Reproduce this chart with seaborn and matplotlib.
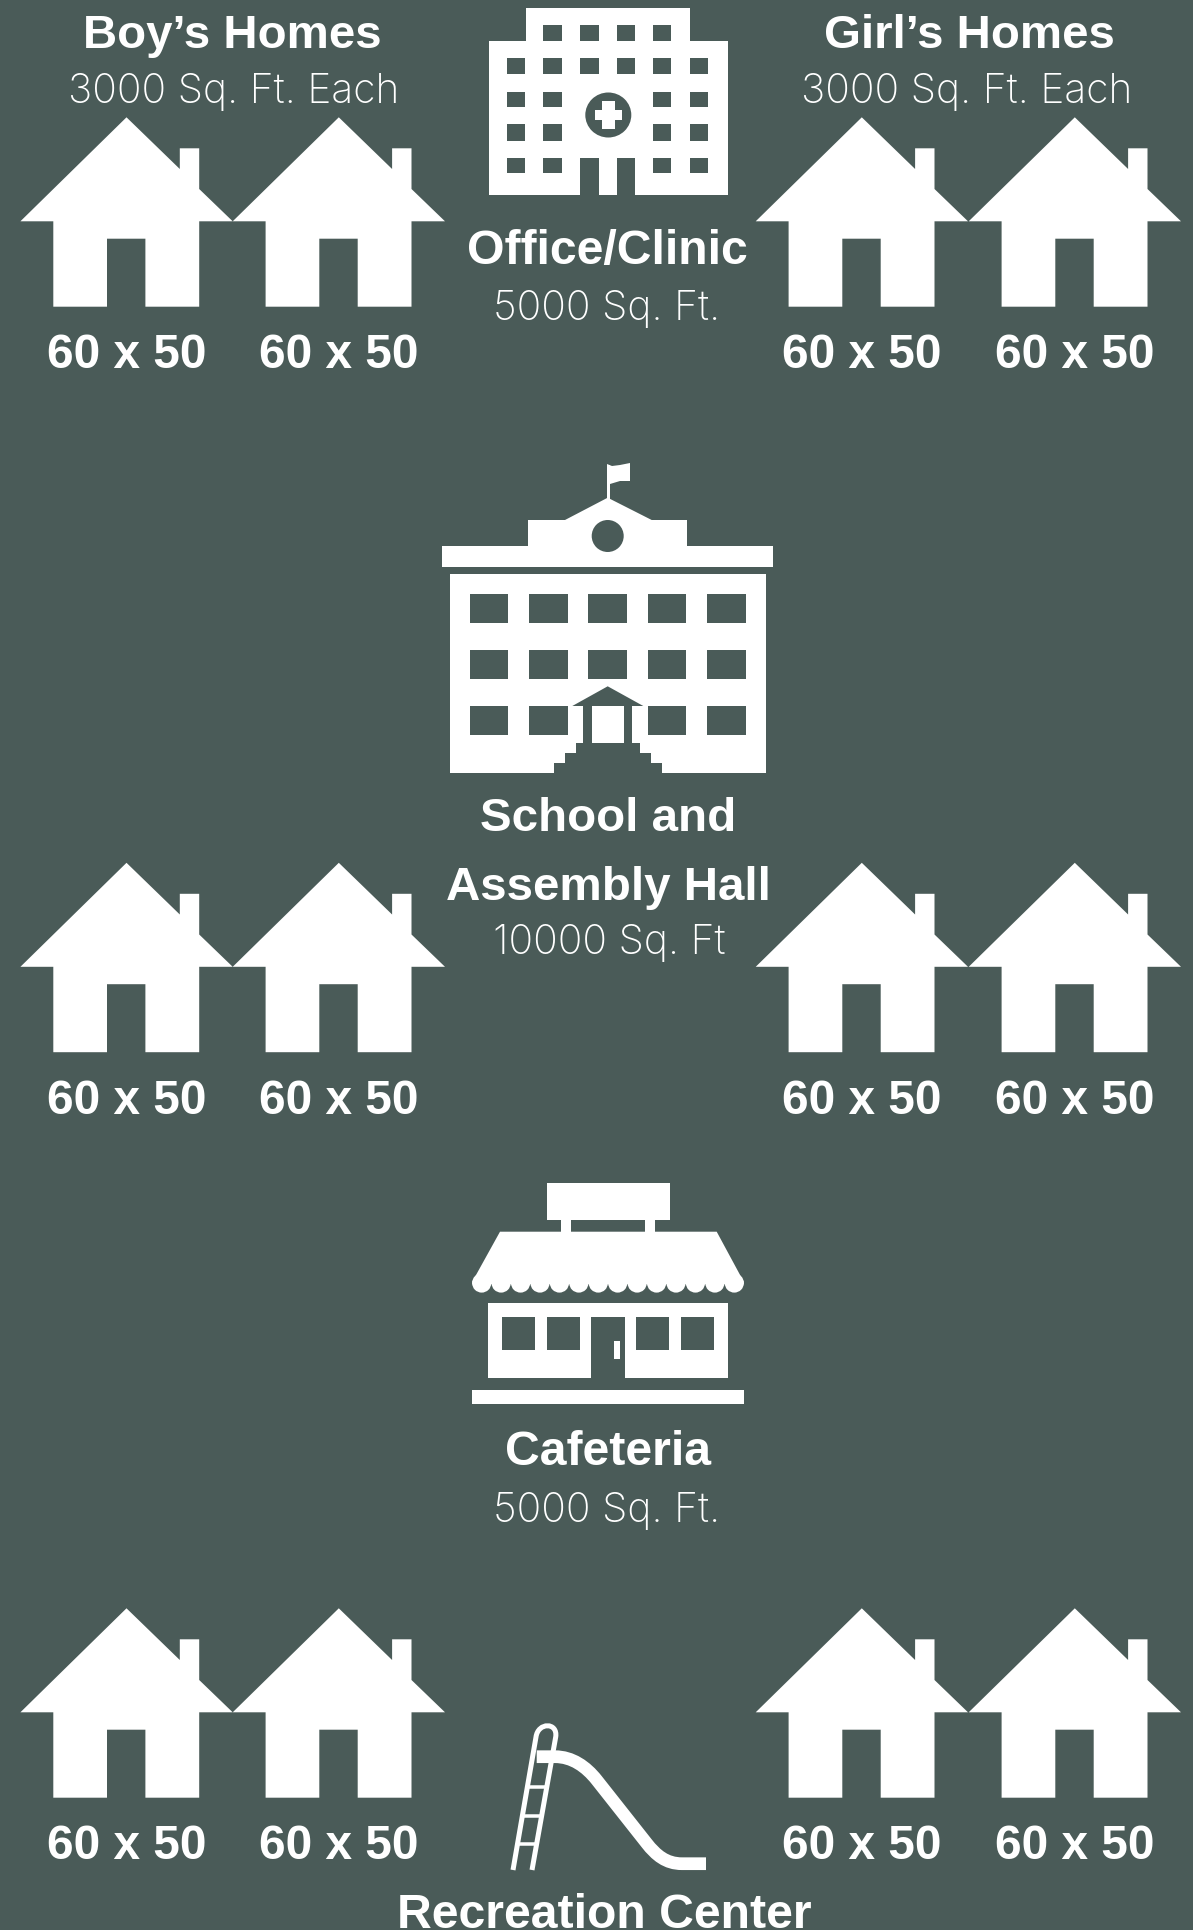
import matplotlib
matplotlib.use("Agg")
import matplotlib.pyplot as plt
import numpy as np
import pandas as pd
import seaborn as sns
from matplotlib.patches import Circle, Ellipse, PathPatch
from matplotlib.path import Path

# values shown on the sheet
home_groups = ["Boy\u2019s Homes", "Girl\u2019s Homes"]
home_sqft = [3000, 3000]
home_width = [60, 60, 60, 60]
home_depth = [50, 50, 50, 50]
home_rows = [0, 1, 2]
office_name = "Office/Clinic"
office_sqft = "5000 Sq. Ft."
school_name = ["School and", "Assembly Hall"]
school_sqft = "10000 Sq. Ft"
cafe_name = "Cafeteria"
cafe_sqft = "5000 Sq. Ft."
rec_name = "Recreation Center"

BG = "#4a5b58"
FG = "#ffffff"
W, H = 1193, 1930
DPI = 100
BOLD = "Liberation Sans"
LIGHT = "Inter"

# layout, in reference pixels
COL_X = [126.5, 338.8, 861.8, 1074.8]
ROW_BASE = [306.7, 1052.2, 1797.7]
ROW_STEP = 745.5

# house outline, x from apex, y up from the ground
HOUSE = [
    (-73.2, 0), (-19.5, 0), (-19.5, 68), (18.9, 68), (18.9, 0), (72.7, 0),
    (72.7, 85.4), (106.2, 85.4), (72.7, 117.7), (72.7, 158.4), (53.3, 158.4),
    (53.3, 137.7), (0, 189.4), (-106.1, 85.4), (-73.2, 85.4), (-73.2, 0),
]


def px(v):
    return v * 72 / DPI


def rect(ax, x0, y0, x1, y1, color=FG):
    ax.fill([x0, x1, x1, x0], [y0, y0, y1, y1], color=color, lw=0)


def label(ax, x, y, s, size=34.7):
    ax.text(x, y, s, ha="center", va="baseline", color=FG, fontsize=size,
            family=BOLD, fontweight="bold")


def light_label(ax, x, y, s, size=29.4):
    ax.text(x, y, s, ha="center", va="baseline", color=FG, fontsize=size,
            family=LIGHT, fontweight="light")


def draw_homes(ax):
    rows = pd.DataFrame(
        [(x, y) for y in ROW_BASE for x in COL_X], columns=["x", "y"]
    )
    marker = Path(np.array(HOUSE, dtype=float), closed=True)
    radius = np.abs(marker.vertices).max()
    sns.scatterplot(
        data=rows, x="x", y="y", marker=marker, s=(2 * radius * 72 / DPI) ** 2,
        color=FG, edgecolor="none", linewidth=0, legend=False, ax=ax,
    )
    for r in home_rows:
        for x, w, d in zip(COL_X, home_width, home_depth):
            label(ax, x, 368 + r * ROW_STEP, f"{w} x {d}", size=34.4)


def draw_office(ax):
    rect(ax, 526, 8.3, 689.8, 45)
    rect(ax, 488.6, 40.7, 727.6, 195)
    cols = [(507, 525.4), (543.4, 561.8), (580.2, 598.6), (617, 635), (653.4, 671.3), (690.3, 708.2)]
    rows = [(25, 40.7), (58.3, 74), (91.7, 107.3), (124.3, 140.7), (157.7, 173.3)]
    keep = [[1, 2, 3, 4], [0, 1, 2, 3, 4, 5], [0, 1, 4, 5], [0, 1, 4, 5], [0, 1, 4, 5]]
    for (y0, y1), idx in zip(rows, keep):
        for i in idx:
            rect(ax, cols[i][0], y0, cols[i][1], y1, BG)
    rect(ax, 580.2, 157.7, 598.6, 195, BG)
    rect(ax, 617, 157.7, 635, 195, BG)
    ax.add_patch(Ellipse((608.3, 115), 46, 45, color=BG, lw=0))
    rect(ax, 594.8, 110, 622, 120)
    rect(ax, 602, 101, 615, 129.3)


def draw_school(ax):
    # flag and roof
    rect(ax, 606.7, 465, 610, 500)
    ax.fill([607, 612, 620, 630, 630, 620, 610, 607], [464, 466, 465, 463, 481, 481, 484, 484], color=FG, lw=0)
    ax.fill([565, 607.7, 651.7], [520, 497.7, 520], color=FG, lw=0)
    rect(ax, 528, 520, 687, 547)
    rect(ax, 442, 546, 773, 566.7)
    ax.add_patch(Circle((607.7, 536), 16, color=BG, lw=0))
    # body
    rect(ax, 450, 574, 766, 773)
    cols = [(470, 508.3), (529, 567.7), (588.3, 626.7), (648, 686.3), (707.3, 745.7)]
    rows = [(594, 623), (650, 679), (706, 734.7)]
    for j, (y0, y1) in enumerate(rows):
        for i, (x0, x1) in enumerate(cols):
            if j == 2 and i == 2:
                continue
            rect(ax, x0, y0, x1, y1, BG)
    # porch and steps
    ax.fill([572.3, 607.7, 643.3], [706, 686.3, 706], color=BG, lw=0)
    ax.fill(
        [583.3, 632.3, 632.3, 640, 640, 651, 651, 661.7, 661.7, 554.3, 554.3, 565, 565, 575.7, 575.7, 583.3],
        [706, 706, 742.7, 742.7, 752.7, 752.7, 762.7, 762.7, 773, 773, 762.7, 762.7, 752.7, 752.7, 742.7, 742.7],
        color=BG, lw=0,
    )
    rect(ax, 591.7, 706, 624.3, 742.7)


def draw_cafe(ax):
    rect(ax, 546.7, 1182.7, 669.7, 1220)
    rect(ax, 560.7, 1219, 571.3, 1232)
    rect(ax, 644.7, 1219, 655, 1232)
    ax.fill([500, 716.7, 743.7, 743.7, 472.3, 472.3], [1231.7, 1231.7, 1281.7, 1284, 1284, 1281.7], color=FG, lw=0)
    for cx in np.linspace(481.7, 734.3, 14):
        ax.add_patch(Circle((cx, 1283), 9.6, color=FG, lw=0))
    rect(ax, 487.7, 1303.3, 728.3, 1378.3)
    for x0, x1 in [(501.7, 535), (546.7, 580), (636, 669.3), (680.7, 714)]:
        rect(ax, x0, 1317, x1, 1350, BG)
    rect(ax, 591.3, 1317, 624.7, 1378.3, BG)
    rect(ax, 613.7, 1341, 620.3, 1358.7)
    rect(ax, 472.3, 1390.3, 743.7, 1403.7)


def draw_slide(ax):
    hoop = Path(
        [(513, 1870), (536, 1737), (538, 1722), (558, 1722), (555.7, 1737), (532, 1870)],
        [Path.MOVETO, Path.LINETO, Path.CURVE4, Path.CURVE4, Path.CURVE4, Path.LINETO],
    )
    ax.add_patch(PathPatch(hoop, fill=False, ec=FG, lw=px(5), capstyle="butt", joinstyle="round"))
    for y, x0, x1 in [(1787.3, 527.3, 546.7), (1815.7, 522.3, 541.7), (1844, 517.5, 536.7)]:
        ax.plot([x0, x1], [y, y], color=FG, lw=px(3.5), solid_capstyle="butt")
    chute = Path(
        [(536.7, 1756.7), (555, 1756.7), (572, 1756.7), (586, 1766.5), (596.7, 1780),
         (646.7, 1843.3), (656, 1855.1), (666, 1863.7), (682, 1863.7), (706, 1863.7)],
        [Path.MOVETO, Path.LINETO, Path.CURVE4, Path.CURVE4, Path.CURVE4,
         Path.LINETO, Path.CURVE4, Path.CURVE4, Path.CURVE4, Path.LINETO],
    )
    ax.add_patch(PathPatch(chute, fill=False, ec=FG, lw=px(12.7), capstyle="butt", joinstyle="round"))


def main():
    sns.set_theme(style="white")
    plt.rcParams["font.family"] = [BOLD, "DejaVu Sans"]

    fig = plt.figure(figsize=(W / DPI, H / DPI), dpi=DPI, facecolor=BG)
    ax = fig.add_axes([0, 0, 1, 1])
    ax.set_facecolor(BG)

    draw_homes(ax)
    draw_office(ax)
    draw_school(ax)
    draw_cafe(ax)
    draw_slide(ax)

    ax.set_xlim(0, W)
    ax.set_ylim(H, 0)
    ax.axis("off")

    for name, sqft, x, x2 in zip(home_groups, home_sqft, [232, 969], [233.3, 967]):
        label(ax, x, 47.5, name, size=34.1)
        light_label(ax, x2, 103, f"{sqft} Sq. Ft. Each")

    label(ax, 607.6, 264, office_name)
    light_label(ax, 607, 320, office_sqft)
    label(ax, 608, 831, school_name[0], size=34.2)
    label(ax, 608, 900.5, school_name[1], size=34.2)
    light_label(ax, 609, 954, school_sqft)
    label(ax, 608, 1465, cafe_name)
    light_label(ax, 607, 1522, cafe_sqft)
    label(ax, 604.5, 1928, rec_name)

    fig.savefig("out.png", dpi=DPI, facecolor=BG)


if __name__ == "__main__":
    main()
